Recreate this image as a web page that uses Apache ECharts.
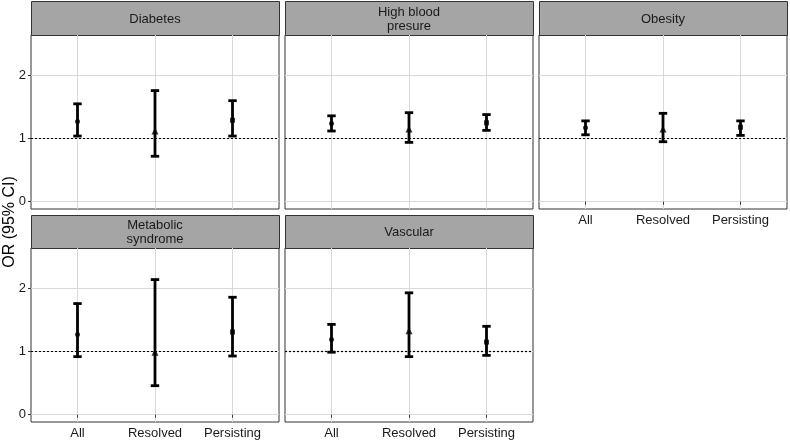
<!DOCTYPE html>
<html>
<head>
<meta charset="utf-8">
<script src="https://cdn.jsdelivr.net/npm/echarts@6/dist/echarts.min.js"></script>
<style>html,body{margin:0;padding:0;background:#fff}#c{width:790px;height:442px}</style>
</head>
<body>
<div id="c"></div>
<script>
const categories = ['All', 'Resolved', 'Persisting'];
const panelTitles = ['Diabetes', 'High blood\npresure', 'Obesity', 'Metabolic\nsyndrome', 'Vascular'];
const yTicks = [0, 1, 2];
const refLine = 1;

const diabetesOR = [1.27, 1.12, 1.29];
const diabetesLow = [1.04, 0.72, 1.04];
const diabetesHigh = [1.55, 1.76, 1.60];

const bloodPressureOR = [1.24, 1.15, 1.25];
const bloodPressureLow = [1.12, 0.94, 1.13];
const bloodPressureHigh = [1.36, 1.41, 1.38];

const obesityOR = [1.17, 1.15, 1.18];
const obesityLow = [1.06, 0.95, 1.05];
const obesityHigh = [1.28, 1.40, 1.28];

const metabolicOR = [1.27, 0.99, 1.31];
const metabolicLow = [0.92, 0.46, 0.93];
const metabolicHigh = [1.76, 2.14, 1.86];

const vascularOR = [1.19, 1.33, 1.15];
const vascularLow = [0.99, 0.92, 0.94];
const vascularHigh = [1.43, 1.93, 1.40];

const panelOR = [diabetesOR, bloodPressureOR, obesityOR, metabolicOR, vascularOR];
const panelLow = [diabetesLow, bloodPressureLow, obesityLow, metabolicLow, vascularLow];
const panelHigh = [diabetesHigh, bloodPressureHigh, obesityHigh, metabolicHigh, vascularHigh];
const symbols = ['circle', 'triangle', 'rect'];

const lefts = [31, 285, 539, 31, 285];
const plotTops = [35, 35, 35, 248, 248];
const stripTops = [1, 1, 1, 215, 215];
const panelW = 248, panelH = 174, stripH = [34, 34, 34, 33, 33];
const showX = [false, false, true, true, true];
const showY = [true, false, false, true, false];

const FONT = 'Liberation Sans, Arial, Helvetica, sans-serif';
const grids = [], xAxes = [], yAxes = [], series = [], graphics = [];

for (let i = 0; i < 5; i++) {
  grids.push({
    left: lefts[i], top: plotTops[i], width: panelW, height: panelH,
    show: true, borderColor: '#333', borderWidth: 1, backgroundColor: '#fff',
    containLabel: false, outerBoundsMode: 'none'
  });
  xAxes.push({
    type: 'value', gridIndex: i, min: 0.4, max: 3.6,
    axisLine: { show: false },
    axisTick: { show: showX[i], length: 3, lineStyle: { color: '#333' }, customValues: [1, 2, 3] },
    axisLabel: { show: showX[i], customValues: [1, 2, 3], formatter: v => categories[Math.round(v) - 1],
      color: '#1a1a1a', fontSize: 13, fontFamily: FONT, margin: 5 },
    splitLine: { show: true, lineStyle: { color: '#d9d9d9', width: 1 } }
  });
  yAxes.push({
    type: 'value', gridIndex: i, min: -0.115, max: 2.64,
    axisLine: { show: false },
    axisTick: { show: showY[i], length: 3, lineStyle: { color: '#333' }, customValues: yTicks },
    axisLabel: { show: showY[i], customValues: yTicks, color: '#1a1a1a', fontSize: 13, fontFamily: FONT, margin: 5 },
    splitLine: { show: true, lineStyle: { color: '#d9d9d9', width: 1 } }
  });
  const errData = categories.map((c, j) => [j + 1, panelLow[i][j], panelHigh[i][j]]);
  series.push({
    type: 'custom', xAxisIndex: i, yAxisIndex: i, z: 3,
    encode: { x: 0, y: [1, 2] },
    data: errData,
    renderItem: (params, api) => {
      const x = api.value(0);
      const p1 = api.coord([x, api.value(1)]);
      const p2 = api.coord([x, api.value(2)]);
      const hw = 4.2;
      const st = { stroke: '#000', lineWidth: 2.8 };
      return { type: 'group', children: [
        { type: 'line', shape: { x1: p1[0], y1: p1[1], x2: p2[0], y2: p2[1] }, style: st },
        { type: 'line', shape: { x1: p1[0] - hw, y1: p1[1], x2: p1[0] + hw, y2: p1[1] }, style: st },
        { type: 'line', shape: { x1: p2[0] - hw, y1: p2[1], x2: p2[0] + hw, y2: p2[1] }, style: st }
      ]};
    }
  });
  series.push({
    type: 'scatter', xAxisIndex: i, yAxisIndex: i, z: 4,
    data: categories.map((c, j) => ({ value: [j + 1, panelOR[i][j]], symbol: symbols[j],
      symbolSize: j === 1 ? 7 : 5 })),
    itemStyle: { color: '#000' },
    markLine: {
      silent: true, symbol: 'none', label: { show: false },
      lineStyle: { color: '#000', type: [2, 2], width: 1.2 },
      data: [{ yAxis: refLine }]
    }
  });
  graphics.push({
    type: 'rect', left: lefts[i], top: stripTops[i],
    shape: { width: panelW, height: stripH[i] },
    style: { fill: '#a5a5a5', stroke: '#333', lineWidth: 1 }
  });
  graphics.push({
    type: 'text', x: lefts[i] + panelW / 2, y: stripTops[i] + stripH[i] / 2 + 1,
    style: { text: panelTitles[i], fill: '#1a1a1a', font: '13px ' + FONT,
      align: 'center', verticalAlign: 'middle', lineHeight: 14 }
  });
}
graphics.push({
  type: 'text', x: 10, y: 222, rotation: Math.PI / 2,
  style: { text: 'OR (95% CI)', fill: '#000', font: '16px ' + FONT,
    align: 'center', verticalAlign: 'middle' }
});

const chart = echarts.init(document.getElementById('c'), null, { renderer: 'canvas' });
chart.setOption({
  animation: false,
  backgroundColor: '#fff',
  grid: grids, xAxis: xAxes, yAxis: yAxes, series: series, graphic: graphics
});
</script>
</body>
</html>
